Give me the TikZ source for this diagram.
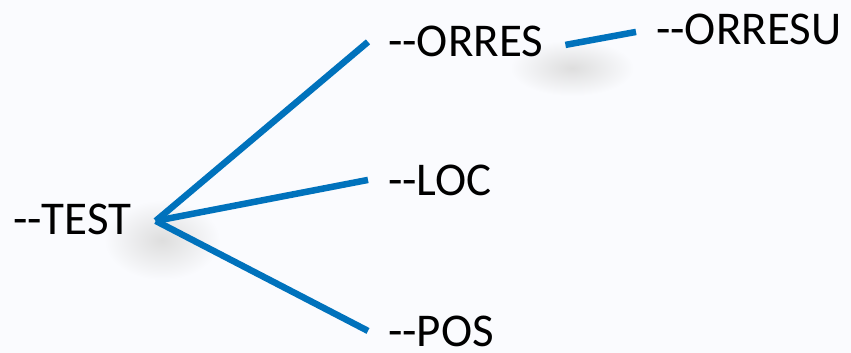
\documentclass[tikz,border=0pt]{standalone}
\usepackage{fontspec}
\setmainfont{Carlito}[Ligatures=NoCommon]
\definecolor{bgc}{RGB}{250,251,254}
\definecolor{linec}{RGB}{0,114,188}
\newcommand{\dd}{-\kern0pt-}
\begin{document}
\begin{tikzpicture}[x=1pt,y=-1pt,
  lbl/.style={anchor=base west,inner sep=0pt,font=\fontsize{47}{52}\selectfont},
  conn/.style={draw=linec,line width=6.5pt},
  softshadow/.style={inner color=black!13,outer color=bgc}]
\fill[bgc] (0,0) rectangle (851,353);
\useasboundingbox (0,0) rectangle (851,353);
% shadows
\shade[softshadow] (162,240) ellipse (58pt and 40pt);
\shade[softshadow] (572,68) ellipse (62pt and 28pt);
% labels
\node[lbl] (test) at (13,234) {\dd TEST};
\node[lbl] (orres) at (388,57) {\dd ORRES};
\node[lbl] (orresu) at (656,45) {\dd ORRESU};
\node[lbl] (loc) at (388,195) {\dd LOC};
\node[lbl] (pos) at (388,346) {\dd POS};
\coordinate (root) at ([xshift=24pt,yshift=-2pt]test.east);
% connectors
\draw[conn] (root) -- ([xshift=-20pt]orres.west);
\draw[conn] (root) -- ([xshift=-20pt]loc.west);
\draw[conn] (root) -- ([xshift=-20pt]pos.west);
\draw[conn] ([xshift=22pt,yshift=-3pt]orres.east) -- ([xshift=-20pt,yshift=-2pt]orresu.west);
\end{tikzpicture}
\end{document}
